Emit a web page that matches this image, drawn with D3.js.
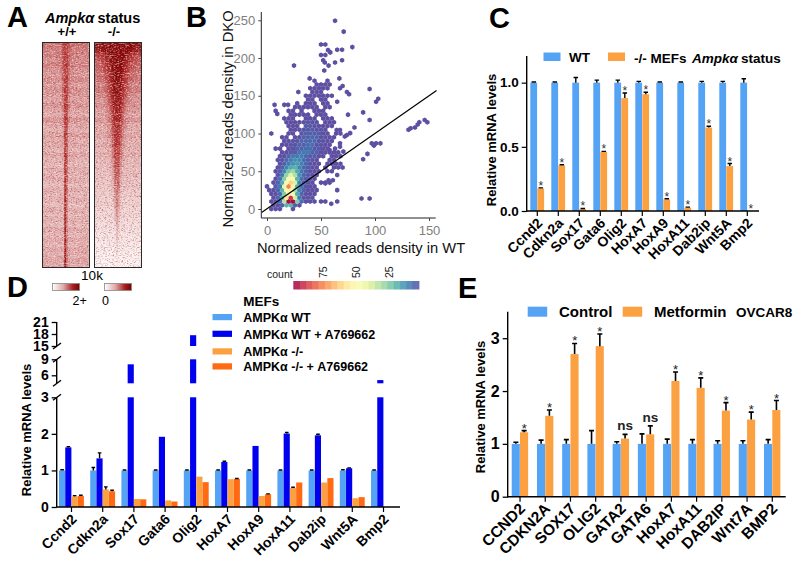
<!DOCTYPE html>
<html><head><meta charset="utf-8">
<script src="https://cdn.jsdelivr.net/npm/d3@7"></script>
<style>
html,body{margin:0;padding:0;background:#fff}
text{font-family:"Liberation Sans",Arial,sans-serif}
</style></head><body><svg id="c" width="800" height="567"></svg>
<script>
// Panel A: row-band read-offs, top to bottom (45 bands)
const heatWTBg=[.5,.46,.46,.42,.46,.4,.38,.42,.36,.4,.38,.34,.4,.34,.3,.38,.33,.28,.36,.3,.32,.27,.33,.28,.25,.3,.27,.29,.24,.29,.26,.28,.24,.29,.26,.28,.26,.3,.27,.3,.28,.31,.3,.33,.32];
const heatWTPeakV=[.18,.2,.22,.22,.24,.26,.28,.28,.3,.3,.32,.32,.34,.34,.34,.36,.36,.36,.38,.38,.4,.4,.42,.42,.44,.44,.46,.48,.5,.5,.52,.54,.54,.56,.58,.58,.6,.62,.62,.64,.64,.64,.64,.64,.64];
const heatWTPeakW=[4,4,4,4,3.6,3.6,3.4,3.2,3,3,2.8,2.8,2.6,2.5,2.4,2.4,2.2,2.2,2,2,1.8,1.8,1.7,1.7,1.6,1.6,1.5,1.5,1.4,1.4,1.3,1.3,1.2,1.2,1.1,1.1,1,1,1,1,1,1,1,1,1];
const heatKOBg=[.9,.8,.62,.58,.54,.52,.48,.5,.44,.46,.42,.38,.4,.36,.34,.38,.32,.3,.34,.28,.3,.26,.3,.24,.26,.22,.24,.2,.22,.18,.18,.15,.16,.13,.13,.11,.1,.09,.07,.07,.05,.04,.03,.02,.01];
const heatKOPeakV=[.5,.5,.52,.52,.52,.52,.5,.5,.5,.5,.5,.5,.48,.48,.46,.46,.46,.44,.44,.42,.42,.4,.4,.38,.38,.36,.36,.34,.32,.32,.3,.28,.28,.26,.24,.22,.2,.18,.15,.13,.1,.08,.06,.03,.02];
const heatKOPeakW=[15,14,12,11,10,10,9,9,8.5,8.5,8,8,7.5,7,7,6.5,6.5,6,6,5.5,5.5,5,5,4.5,4.5,4,4,3.6,3.4,3.2,3,2.8,2.6,2.4,2.2,2,1.8,1.6,1.5,1.4,1.2,1.2,1,1,1];
// Panel B: hex counts [y,[[x0,x1,count],...]]
const hexRows=[
[0,[[4,12,3],[24,24,3]]],
[5,[[6,10,3],[14,14,6],[18,22,20],[26,26,6],[30,30,3]]],
[10,[[4,8,3],[12,12,8],[16,16,34],[20,24,96],[28,28,26],[32,32,8],[36,44,3]]],
[15,[[6,6,3],[10,10,7],[14,14,18],[18,18,58],[22,22,90],[26,26,38],[30,30,10],[34,42,4]]],
[20,[[4,8,3],[12,12,7],[16,16,26],[20,20,56],[24,24,46],[28,28,18],[32,32,7],[36,40,3],[44,44,3]]],
[25,[[2,6,3],[10,10,6],[14,14,20],[18,18,48],[22,22,54],[26,26,30],[30,30,12],[34,34,6],[38,42,3],[46,46,3]]],
[30,[[0,0,3],[8,8,5],[12,12,10],[16,16,44],[20,20,76],[24,24,54],[28,28,20],[32,32,8],[36,36,4],[40,44,3]]],
[35,[[6,6,3],[10,10,6],[14,14,18],[18,18,50],[22,22,62],[26,26,40],[30,30,12],[34,34,6],[38,38,4],[42,42,3],[50,58,3]]],
[40,[[8,8,3],[12,12,8],[16,16,26],[20,20,50],[24,24,48],[28,28,20],[32,32,8],[36,36,5],[40,40,4],[44,44,3]]],
[45,[[10,10,4],[14,14,10],[18,18,28],[22,22,42],[26,26,32],[30,30,14],[34,34,7],[38,38,5],[42,42,3],[46,46,3]]],
[50,[[8,8,3],[12,12,5],[16,16,12],[20,20,24],[24,24,30],[28,28,18],[32,32,10],[36,36,6],[40,40,3],[44,48,3],[56,60,3]]],
[55,[[10,10,3],[14,14,6],[18,18,12],[22,22,18],[26,26,20],[30,30,12],[34,34,7],[38,38,5],[42,42,3],[46,46,3],[54,54,3],[62,70,3]]],
[60,[[12,12,3],[16,16,6],[20,20,10],[24,24,14],[28,28,16],[32,32,11],[36,36,7],[40,40,4],[44,44,3],[48,48,3],[56,68,3]]],
[65,[[10,10,3],[14,14,4],[18,18,7],[22,22,11],[26,26,14],[30,30,13],[34,34,8],[38,38,5],[42,42,4],[46,46,3],[58,62,3]]],
[70,[[12,16,3],[20,20,6],[24,28,10],[32,32,11],[36,36,7],[40,44,5],[48,52,3],[60,68,3]]],
[75,[[14,18,3],[22,26,5],[30,30,9],[34,38,10],[42,46,6],[50,58,3],[62,66,3]]],
[80,[[8,12,3],[20,24,3],[28,32,6],[36,40,8],[44,48,5],[52,56,3]]],
[85,[[14,18,3],[22,26,4],[30,34,6],[38,42,8],[46,50,4],[54,58,3]]],
[90,[[16,20,3],[24,28,4],[32,36,7],[40,44,7],[48,52,4],[56,60,3]]],
[95,[[14,18,3],[26,30,3],[34,38,6],[42,46,7],[50,54,4],[58,62,3]]],
[100,[[4,4,3],[20,24,3],[32,32,4],[36,40,6],[44,48,5],[52,56,3],[64,68,3]]],
[105,[[22,26,3],[30,34,4],[38,42,5],[46,50,4],[54,54,3]]],
[110,[[20,24,3],[28,28,3],[36,40,5],[44,44,4],[48,56,3],[60,60,3]]],
[115,[[18,22,3],[26,30,3],[34,38,4],[42,46,4],[54,62,3]]],
[120,[[16,24,3],[36,40,3],[44,44,3],[52,60,3]]],
[125,[[22,26,3],[30,38,3],[46,54,3]]],
[130,[[20,24,3],[32,32,3],[44,52,3]]],
[135,[[26,34,3],[38,46,3],[54,58,3]]],
[140,[[28,28,3],[36,44,3],[52,56,3]]],
[145,[[38,42,3],[50,54,3]]],
[150,[[36,44,3],[48,60,3]]],
[155,[[42,50,3]]],
[160,[[40,48,3],[52,56,3]]],
[165,[[46,46,3],[50,54,3],[58,58,3]]],
[170,[[44,44,3],[56,56,3]]]
];
const hexSparse=[[63,249.5],[71,235],[79,214.5],[50,218],[54,218],[50,204],[54,204],[56.5,210.5],[58.6,207.5],[65,211],[69.5,211],[69.5,197],[63,194],[57,190],[52,197],[53.5,194],[25,190],[53,183.5],[39.5,173],[67,173],[7,138],[16,138],[19.5,138],[8,130],[9.5,126],[29,155],[95,159],[103,146],[101,142],[89,128],[95,118],[81,108],[75,125],[65,142],[74,155],[76,152],[67.6,160],[70,163],[131,105],[133,107],[137,108],[139.5,112],[141,115],[146,118],[148.5,115],[97,87],[99,84],[101,87],[105,87],[93,73],[89,66],[87.5,14],[95,14],[65,25],[65,10],[59.5,7],[54,10],[50,10],[67.6,87],[70.7,76],[58,78],[63,80],[67.6,82.5],[74,98],[77,100.5],[72,96],[67.6,104.6],[64.5,104.6],[65,45],[61,38],[57,38],[54,34]];
const hexRefLine=[-5,157];
const bTicksX=[0,50,100,150], bTicksY=[0,50,100,150,200,250], countTicks=[75,50,25];
// Panel C
const genesC=["Ccnd2","Cdkn2a","Sox17","Gata6","Olig2","HoxA7","HoxA9","HoxA11","Dab2ip","Wnt5A","Bmp2"];
const cWT=[1,1,1,1,1,1,1,1,1,1,1];
const cWTTop=[1.005,1.005,1.04,1.02,1.02,1.01,1.005,1.005,1.01,1.01,1.03];
const cKO=[.175,.355,.015,.46,.88,.91,.09,.025,.65,.35,0];
const cKOTop=[.18,.36,.02,.465,.92,.925,.095,.03,.66,.37,0];
// Panel D
const dWT=[1,1,1,1,1,1,1,1,1,1,1];
const dWTA=[1.63,1.33,8.06,1.92,17.7,1.23,1.67,2.01,1.96,1.06,5.1];
const dKO=[.29,.48,.22,.18,.83,.76,.3,.52,.67,.24,0];
const dKOA=[.3,.43,.21,.15,.68,.77,.35,.67,.79,.27,0];
const dWTTop=[1.02,1.08,1.01,1.01,1.01,1.01,1.01,1.01,1.01,1.02,1.01];
const dWTATop=[1.65,1.48,0,0,0,1.25,0,2.04,1.99,1.07,0];
const dKOTop=[.31,.55,0,0,0,0,0,.54,0,0,0];
const dKOATop=[.32,.46,0,0,0,.78,.36,0,0,0,0];
// Panel E
const genesE=["CCND2","CDKN2A","SOX17","OLIG2","GATA2","GATA6","HoxA7","HoxA11","DAB2IP","Wnt7A","BMP2"];
const eCtl=[1,1,1,1,1,1,1,1,1,1,1];
const eCtlTop=[1.03,1.07,1.08,1.25,1.04,1.19,1.09,1.08,1.06,1.06,1.08];
const eMet=[1.22,1.53,2.7,2.85,1.1,1.18,2.19,2.06,1.63,1.46,1.64];
const eMetTop=[1.25,1.64,2.9,3.08,1.18,1.34,2.36,2.25,1.78,1.6,1.82];
const eSig=["*","*","*","*","ns","ns","*","*","*","*","*"];

const LB="#55A3F5",LO="#FBA142",DB="#0000EE",DO="#FF6A13";
const svg=d3.select("#c");
const defs=svg.append("defs");
function txt(x,y,s,o={}){const t=svg.append("text").attr("x",x).attr("y",y).text(s)
 .attr("font-size",o.size||13).attr("font-weight",o.w||400).attr("fill",o.fill||"#000").attr("text-anchor",o.a||"start");
 if(o.style)t.attr("font-style",o.style); if(o.rot!=null)t.attr("transform",`rotate(${o.rot} ${x} ${y})`); return t;}
[["A",7,27],["B",186,27],["C",489,28],["D",7,297],["E",458,298]].forEach(d=>txt(d[1],d[2],d[0],{size:29,w:700}));

// ---------- Panel A
const heatColor=d3.scaleLinear().domain([0,.35,.7,1]).range(["#fdf8f8","#dc9f9f","#b23030","#850606"]).clamp(true);
const grainA=defs.append("filter").attr("id","grainD").attr("x",0).attr("y",0).attr("width","100%").attr("height","100%").attr("color-interpolation-filters","sRGB");
grainA.append("feTurbulence").attr("type","fractalNoise").attr("baseFrequency","0.55 1.2").attr("numOctaves",2).attr("seed",4);
grainA.append("feColorMatrix").attr("values","0 0 0 0 .6  0 0 0 0 .1  0 0 0 0 .1  3 0 0 0 -1.45");
const grainB=defs.append("filter").attr("id","grainL").attr("x",0).attr("y",0).attr("width","100%").attr("height","100%").attr("color-interpolation-filters","sRGB");
grainB.append("feTurbulence").attr("type","fractalNoise").attr("baseFrequency","0.5 1.1").attr("numOctaves",2).attr("seed",11);
grainB.append("feColorMatrix").attr("values","0 0 0 0 1  0 0 0 0 .95  0 0 0 0 .95  3 0 0 0 -1.35");
function heat(x0,x1,cx,bg,pv,pw,id){
 const y=d3.scaleBand().domain(d3.range(bg.length)).range([42.5,267.5]);
 const x=d3.scaleLinear().domain([0,24]).range([x0,x1]);
 const g=svg.append("g");
 defs.append("clipPath").attr("id",id).append("rect").attr("x",x0).attr("y",42.5).attr("width",x1-x0).attr("height",225);
 g.attr("clip-path",`url(#${id})`);
 bg.forEach((b,r)=>{d3.range(24).forEach(i=>{
   const mid=(x(i)+x(i+1))/2, d=(mid-cx)/pw[r];
   g.append("rect").attr("x",x(i)).attr("y",y(r)).attr("width",x(1)-x(0)+.5).attr("height",y.bandwidth()+.5)
    .attr("fill",heatColor(b+pv[r]*Math.exp(-d*d)));
 });
 g.append("rect").attr("x",cx-pw[r]*.5).attr("y",y(r)).attr("width",pw[r]).attr("height",y.bandwidth()+.5).attr("fill",heatColor(b+pv[r])).attr("opacity",.85);
 });
 g.append("rect").attr("x",x0).attr("y",42.5).attr("width",x1-x0).attr("height",225).attr("filter","url(#grainD)").attr("opacity",.45);
 g.append("rect").attr("x",x0).attr("y",42.5).attr("width",x1-x0).attr("height",225).attr("filter","url(#grainL)").attr("opacity",.55);
 svg.append("rect").attr("x",x0).attr("y",42.5).attr("width",x1-x0).attr("height",225).attr("fill","none").attr("stroke","#2a2a2a").attr("stroke-width",1);
}
heat(42.5,89.5,65.7,heatWTBg,heatWTPeakV,heatWTPeakW,"ca");
heat(94.5,141.5,117,heatKOBg,heatKOPeakV,heatKOPeakW,"cb");
txt(45,23,"Ampkα",{size:14.5,w:700,style:"italic"});
txt(97.5,23,"status",{size:14.5,w:700});
txt(67,36,"+/+",{size:13,w:700,a:"middle"});
txt(114,36,"-/-",{size:13,w:700,a:"middle"});
const gr=defs.append("linearGradient").attr("id","hg");
[[0,"#fff"],[.4,"#e0aaaa"],[.75,"#a82020"],[1,"#7a0000"]].forEach(s=>gr.append("stop").attr("offset",s[0]).attr("stop-color",s[1]));
[52.5,104.5].forEach(x=>svg.append("rect").attr("x",x).attr("y",283.5).attr("width",27).attr("height",7).attr("fill","url(#hg)").attr("stroke","#888").attr("stroke-width",.8));
txt(92,280,"10k",{size:13.5,a:"middle"});
txt(72.5,305,"2+",{size:12.5});
txt(102,305,"0",{size:12.5});

// ---------- Panel B
const bx=d3.scaleLinear().domain([0,150]).range([267,429]);
const by=d3.scaleLinear().domain([0,250]).range([209,20.3]);
const hc=d3.scaleSequential(t=>d3.interpolateSpectral(1-t)).domain([3,98]).clamp(true);
const R=2.55;
const hexPath=d3.range(6).map(i=>{const a=Math.PI/3*i+Math.PI/6;return [R*Math.cos(a),R*Math.sin(a)];});
const hexP="M"+hexPath.map(p=>p.join(",")).join("L")+"Z";
const gh=svg.append("g");
hexRows.forEach(([y,runs])=>runs.forEach(([a,b,c])=>{
  for(let x=a;x<=b;x+=4) gh.append("path").attr("d",hexP).attr("transform",`translate(${bx(x)},${by(y)})`).attr("fill",hc(c));
}));
gh.selectAll("path.s").data(hexSparse).join("path").attr("class","s").attr("d",hexP)
  .attr("transform",d=>`translate(${bx(d[0])},${by(d[1])})`).attr("fill",hc(3));
svg.append("line").attr("x1",bx(hexRefLine[0])).attr("y1",by(hexRefLine[0]+.5)).attr("x2",bx(hexRefLine[1])).attr("y2",by(hexRefLine[1]))
  .attr("stroke","#000").attr("stroke-width",1.2);
const axB=svg.append("g").attr("transform","translate(0,218)").call(d3.axisBottom(bx).tickValues(bTicksX).tickSize(3));
axB.select(".domain").attr("d","M261.3,0H435.7").attr("stroke","#222").attr("stroke-width",1);
axB.selectAll(".tick text").attr("font-size",13).attr("fill","#808080").attr("font-family","Liberation Sans").attr("dy","0.85em");
axB.selectAll(".tick line").attr("stroke","#444");
const ayB=svg.append("g").attr("transform","translate(261.3,0)").call(d3.axisLeft(by).tickValues(bTicksY).tickSize(3));
ayB.select(".domain").attr("d","M0,12V218").attr("stroke","#222").attr("stroke-width",1);
ayB.selectAll(".tick text").attr("font-size",13).attr("fill","#808080").attr("font-family","Liberation Sans");
ayB.selectAll(".tick line").attr("stroke","#444");
txt(232.5,119,"Normalized reads density in DKO",{size:14.7,a:"middle",rot:-90,fill:"#111"});
txt(257,253,"Normalized reads density in WT",{size:14.7,fill:"#111"});
txt(267,278,"count",{size:10.5,fill:"#222"});
const cbx=d3.scaleLinear().domain([98,3]).range([293.3,419]);
d3.range(0,20).forEach(i=>{const c=98-i*95/20;svg.append("rect").attr("x",cbx(c)).attr("y",281).attr("width",126/20+.4).attr("height",8.5).attr("fill",hc(c-2.4)).attr("opacity",.88);});
countTicks.forEach(c=>txt(cbx(c)+3.5,278,c,{size:10.5,rot:-90,fill:"#222"}));

// ---------- Panel C
const cx0=d3.scaleBand().domain(genesC).range([526.8,757.8]);
const cs=d3.scaleBand().domain([0,1]).range([-7,7]);
const cy=d3.scaleLinear().domain([0,1.2]).range([211,57]);
function bars(data,xo,xs,i,y,color,yb){
 svg.append("g").selectAll("rect").data(data).join("rect")
  .attr("x",(d,k)=>xo(xo.domain()[k])+xo.bandwidth()/2+xs(i)).attr("width",xs.bandwidth()-.2)
  .attr("y",d=>y(d)).attr("height",d=>yb-y(d)).attr("fill",color);
}
function errs(tops,vals,xo,xs,i,y,capw,w){
 const g=svg.append("g").attr("stroke","#000").attr("stroke-width",w).attr("fill","none");
 tops.forEach((t,k)=>{ if(!t||t<=vals[k])return;
  const x=xo(xo.domain()[k])+xo.bandwidth()/2+xs(i)+xs.bandwidth()/2;
  g.append("path").attr("d",`M${x},${y(vals[k])}V${y(t)}M${x-capw/2},${y(t)}H${x+capw/2}`);
 });
}
bars(cWT,cx0,cs,0,cy,LB,211); bars(cKO,cx0,cs,1,cy,LO,211);
errs(cWTTop,cWT,cx0,cs,0,cy,4.5,1.4); errs(cKOTop,cKO,cx0,cs,1,cy,4.5,1.4);
cKOTop.forEach((t,k)=>{const x=cx0(genesC[k])+10.5+cs(1)+3.5;txt(x,cy(t)+2,"*",{size:12,a:"middle",fill:"#333"});});
function xAxis(x,y,dom,fs,dx,dy){
 const g=svg.append("g").attr("transform",`translate(0,${y})`).call(d3.axisBottom(x).tickSize(5));
 g.select(".domain").attr("d",dom).attr("stroke","#000").attr("stroke-width",1.4);
 g.selectAll(".tick line").attr("stroke","#000").attr("stroke-width",1.2);
 g.selectAll(".tick text").attr("font-size",fs).attr("font-weight",700).attr("font-family","Liberation Sans").attr("fill","#000")
  .attr("text-anchor","end").attr("dy",0).attr("y",0)
  .attr("transform",`translate(${dx},${dy}) rotate(-45)`);
}
xAxis(cx0,211,"M526.7,0H759",14,6,13);
const cAy=svg.append("g").attr("transform","translate(526.7,0)").call(d3.axisLeft(cy).tickValues([0,.5,1]).tickFormat(d3.format(".1f")).tickSize(5));
cAy.select(".domain").attr("d","M0,56V211.7").attr("stroke","#000").attr("stroke-width",1.4);
cAy.selectAll(".tick line").attr("stroke","#000").attr("stroke-width",1.2);
cAy.selectAll(".tick text").attr("font-size",13.5).attr("font-weight",700).attr("font-family","Liberation Sans").attr("fill","#000");
txt(496,140,"Relative mRNA levels",{size:13,w:700,a:"middle",rot:-90});
svg.append("rect").attr("x",543.5).attr("y",52.5).attr("width",17).attr("height",8.5).attr("fill",LB);
svg.append("rect").attr("x",608).attr("y",52.5).attr("width",17).attr("height",8.5).attr("fill",LO);
txt(569,62,"WT",{size:13.5,w:700});
txt(634,63,"-/- MEFs ",{size:13.5,w:700});
txt(692,63,"Ampkα",{size:13.5,w:700,style:"italic"});
txt(741,63,"status",{size:13.5,w:700});

// ---------- Panel D
const dx0=d3.scaleBand().domain(genesC).range([55.9,399.1]);
const ds=d3.scaleBand().domain([0,1,2,3]).range([-12.5,12.5]);
const dy1=d3.scaleLinear().domain([0,3]).range([507,397.3]);
const dy2=d3.scaleLinear().domain([4.5,9]).range([383.3,359.3]);
const dy3=d3.scaleLinear().domain([15,21]).range([346,322]);
const dSeries=[[dWT,LB],[dWTA,DB],[dKO,LO],[dKOA,DO]];
const gD=svg.append("g");
dSeries.forEach(([vals,col],i)=>{
 vals.forEach((v,k)=>{
  const x=dx0(genesC[k])+dx0.bandwidth()/2+ds(i), w=ds.bandwidth()-.1;
  const seg=(top,bot)=>gD.append("rect").attr("x",x).attr("width",w).attr("y",top).attr("height",bot-top).attr("fill",col);
  if(v<=0)return;
  seg(dy1(Math.min(v,3)),507);
  if(v>4.5)seg(dy2(Math.min(v,9)),dy2(4.5));
  if(v>15)seg(dy3(v),dy3(15));
 });
});
[[dWTTop,dWT,0],[dWTATop,dWTA,1],[dKOTop,dKO,2],[dKOATop,dKOA,3]].forEach(([t,v,i])=>errs(t,v,dx0,ds,i,dy1,3.6,1.4));
xAxis(dx0,507,"M56.7,0H400",14,6,13);
const spine=svg.append("g").attr("stroke","#000").attr("stroke-width",1.4).attr("fill","none");
[[dy1,[0,1,2,3],397.3,507.5],[dy2,[6,9],359.3,383.3],[dy3,[15,18,21],322,346]].forEach(([s,ticks,top,bot])=>{
 spine.append("path").attr("d",`M56.7,${top}V${bot}`);
 const a=svg.append("g").attr("transform","translate(56.7,0)").call(d3.axisLeft(s).tickValues(ticks).tickFormat(d3.format("d")).tickSize(5));
 a.select(".domain").remove();
 a.selectAll(".tick line").attr("stroke","#000").attr("stroke-width",1.3);
 a.selectAll(".tick text").attr("font-size",14).attr("font-weight",700).attr("font-family","Liberation Sans").attr("fill","#000");
});
[397.3,383.3,359.3,346].forEach(y=>spine.append("path").attr("d",`M53,${y+3}L61,${y-3}`));
txt(31,430,"Relative mRNA levels",{size:13,w:700,a:"middle",rot:-90});
[[314,LB],[330.7,DB],[348.3,LO],[363.3,DO]].forEach(d=>svg.append("rect").attr("x",212.5).attr("y",d[0]).attr("width",19.5).attr("height",6.2).attr("fill",d[1]));
txt(243.3,305.5,"MEFs",{size:13.5,w:700});
[[322,"AMPKα WT"],[338.7,"AMPKα WT + A769662"],[356,"AMPKα -/-"],[371,"AMPKα -/- + A769662"]].forEach(d=>txt(243.3,d[0],d[1],{size:12.5,w:700}));

// ---------- Panel E
const ex0=d3.scaleBand().domain(genesE).range([507.4,784.9]);
const es=d3.scaleBand().domain([0,1]).range([-8.3,8.3]);
const ey=d3.scaleLinear().domain([0,3.5]).range([496.7,311.8]);
bars(eCtl,ex0,es,0,ey,LB,496.7); bars(eMet,ex0,es,1,ey,LO,496.7);
errs(eCtlTop,eCtl,ex0,es,0,ey,5,1.6); errs(eMetTop,eMet,ex0,es,1,ey,5,1.6);
eSig.forEach((s,k)=>{const x=ex0(genesE[k])+ex0.bandwidth()/2+4.2,y=ey(eMetTop[k]);
 if(s==="*")txt(x,y+2,"*",{size:13,a:"middle",fill:"#222"});
 else txt(x,y-4,s,{size:13.5,w:700,a:"middle",fill:"#222"});});
xAxis(ex0,496.7,"M507.7,0H785.7",15.5,6,13);
const eAy=svg.append("g").attr("transform","translate(507.7,0)").call(d3.axisLeft(ey).tickValues([0,1,2,3]).tickFormat(d3.format("d")).tickSize(5));
eAy.select(".domain").attr("d","M0,311.7V497.4").attr("stroke","#000").attr("stroke-width",1.4);
eAy.selectAll(".tick line").attr("stroke","#000").attr("stroke-width",1.3);
eAy.selectAll(".tick text").attr("font-size",16).attr("font-weight",700).attr("font-family","Liberation Sans").attr("fill","#000");
txt(485,407,"Relative mRNA levels",{size:13,w:700,a:"middle",rot:-90});
svg.append("rect").attr("x",527.7).attr("y",306.7).attr("width",19.5).attr("height",10).attr("fill",LB);
svg.append("rect").attr("x",622.7).attr("y",306.7).attr("width",19.5).attr("height",10).attr("fill",LO);
txt(559,317,"Control",{size:15,w:700});
txt(654,317,"Metformin",{size:15,w:700});
txt(736,317,"OVCAR8",{size:13.5,w:700});
</script></body></html>
